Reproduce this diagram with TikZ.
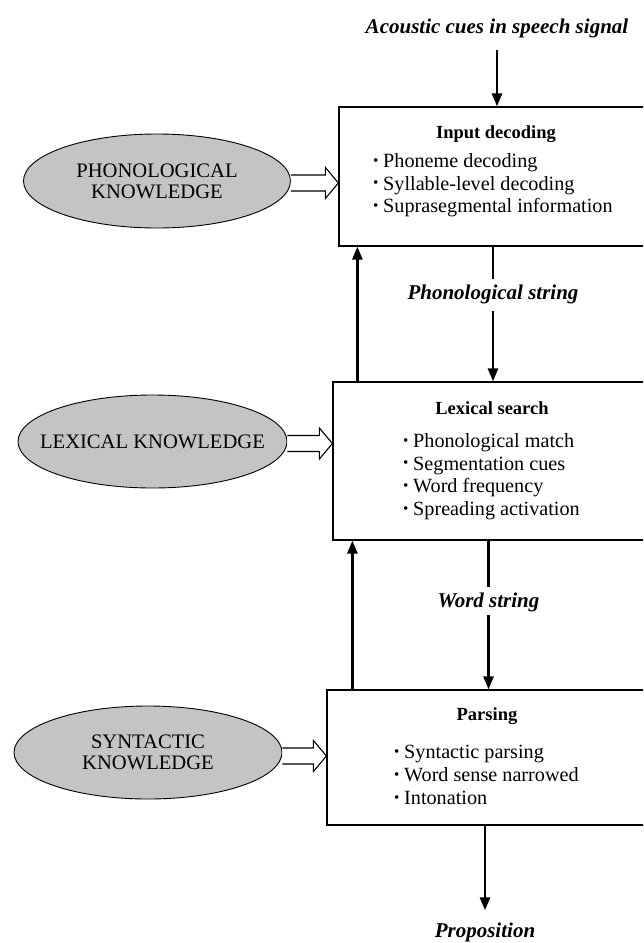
\documentclass[tikz,border=0pt]{standalone}
\usepackage{fontspec}
\setmainfont{Liberation Serif}
\usetikzlibrary{arrows.meta,shapes.geometric,calc}
\definecolor{ellgray}{RGB}{196,196,196}
\newcommand{\bul}{\makebox[10pt][l]{\raisebox{0.22ex}{\scalebox{0.75}{\textbullet}}}}
\newcommand{\hollowarr}[3]{%
  \draw[hollow] let \p1=([yshift=#3]#1.east), \p2=(#2.west) in
    (\x1,{\y1+8pt}) -- ({\x2-13pt},{\y1+8pt}) -- ({\x2-13pt},{\y1+15.5pt})
    -- (\x2,\y1) -- ({\x2-13pt},{\y1-15.5pt}) -- ({\x2-13pt},{\y1-8pt}) -- (\x1,{\y1-8pt});}
\begin{document}
\begin{tikzpicture}[x=1pt,y=-1pt,
  box/.style={draw,line width=1.2pt,rectangle,inner sep=0pt},
  know/.style={ellipse,draw,line width=0.9pt,fill=ellgray,inner sep=0pt,align=center,
    font=\fontsize{20.6}{21}\selectfont},
  ttl/.style={font=\fontsize{18.5}{20}\selectfont\bfseries,inner sep=0pt},
  items/.style={align=left,anchor=north west,inner sep=0pt,font=\fontsize{20.2}{22.8}\selectfont},
  lbl/.style={font=\fontsize{21}{23}\selectfont\bfseries\itshape,inner sep=0pt},
  arr/.style={line width=2.6pt,-{Triangle[length=13pt,width=10pt]}},
  plainline/.style={line width=2.6pt},
  hollow/.style={draw,line width=1.1pt,fill=white,line join=miter}]
\useasboundingbox (0,0) rectangle (643,943);
\clip (0,0) rectangle (643,943);

% boxes
\node[box,minimum width=313pt,minimum height=139pt] (b1) at (495.5,176.5) {};
\node[box,minimum width=319pt,minimum height=158pt] (b2) at (492.5,461) {};
\node[box,minimum width=325pt,minimum height=135pt] (b3) at (489.5,757.5) {};

% box contents
\node[ttl] (t1) at (496,134) {Input decoding};
\node[items] (i1) at (373,153) {\bul Phoneme decoding\\\bul Syllable-level decoding\\\bul Suprasegmental information};
\node[ttl] (t2) at (492,408.5) {Lexical search};
\node[items] (i2) at (403,433) {\bul Phonological match\\\bul Segmentation cues\\\bul Word frequency\\\bul Spreading activation};
\node[ttl] (t3) at (487,716.5) {Parsing};
\node[items] (i3) at (394,745) {\bul Syntactic parsing\\\bul Word sense narrowed\\\bul Intonation};

% knowledge ellipses
\node[know,minimum width=267pt,minimum height=94pt] (e1) at (157,181) {PHONOLOGICAL\\KNOWLEDGE};
\node[know,minimum width=269pt,minimum height=93pt] (e2) at (152.5,441.5) {\makebox[0pt][c]{LEXICAL KNOWLEDGE}};
\node[know,minimum width=268pt,minimum height=93pt] (e3) at (148,752.5) {SYNTACTIC\\KNOWLEDGE};

% hollow arrows
\hollowarr{e1}{b1}{-2pt}
\hollowarr{e2}{b2}{-2pt}
\hollowarr{e3}{b3}{-3.5pt}

% labels
\node[lbl] (src) at (497,28) {Acoustic cues in speech signal};
\node[lbl] (l1) at (493,294) {Phonological string};
\node[lbl] (l2) at (488.5,602) {Word string};
\node[lbl] (prop) at (485,932) {Proposition};

% vertical flow
\draw[arr] ([yshift=-12pt]src.south) -- (src.south |- b1.north);
\draw[plainline] (b1.south -| l1) -- ([yshift=5pt]l1.north);
\draw[arr] ([yshift=-7pt]l1.south) -- (l1.south |- b2.north);
\draw[plainline] (b2.south -| l2) -- ([yshift=5pt]l2.north);
\draw[arr] ([yshift=-3pt]l2.south) -- (l2.south |- b3.north);
\draw[arr] (b3.south -| prop) -- ([yshift=12pt]prop.north);

% feedback arrows
\draw[arr] ([xshift=25pt]b2.north west) -- ([xshift=25pt]b2.north west |- b1.south);
\draw[arr] ([xshift=26pt]b3.north west) -- ([xshift=26pt]b3.north west |- b2.south);
\end{tikzpicture}
\end{document}
